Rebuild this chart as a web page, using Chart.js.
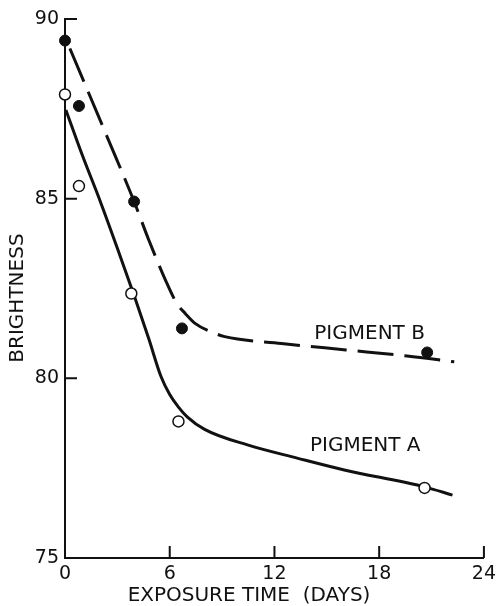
<!DOCTYPE html>
<html>
<head>
<meta charset="utf-8">
<script src="https://cdn.jsdelivr.net/npm/chart.js@4/dist/chart.umd.min.js"></script>
<style>
  html, body { margin: 0; padding: 0; background: #fff; }
  #wrap { width: 501px; height: 606px; }
</style>
</head>
<body>
<div id="wrap"><canvas id="graf"></canvas></div>
<script>
const TINTA = '#111';

const X_TICKS = [0, 6, 12, 18, 24];
const Y_TICKS = [75, 80, 85, 90];

// pontos medidos
const A_DIAS = [0, 0.8, 3.8, 6.5, 20.6];
const A_BRILHO = [87.9, 85.35, 82.36, 78.8, 76.95];
const B_DIAS = [0, 0.8, 3.96, 6.7, 20.75];
const B_BRILHO = [89.4, 87.58, 84.92, 81.39, 80.72];

// curvas desenhadas à mão (passando perto dos pontos)
const A_CURVA_X = [0.05, 1.0, 2.0, 3.0, 4.0, 4.8, 5.5, 6.0, 6.5, 7.0, 8.0, 10.5, 13.3, 16.0, 20.6, 22.2];
const A_CURVA_Y = [87.47, 86.2, 84.95, 83.62, 82.25, 81.1, 80.05, 79.55, 79.2, 78.93, 78.58, 78.14, 77.78, 77.45, 76.98, 76.75];
const B_CURVA_X = [0.28, 2.45, 3.96, 4.8, 5.75, 6.4, 6.9, 7.45, 8.6, 9.15, 12.4, 16.1, 19.6, 22.3];
const B_CURVA_Y = [89.18, 86.68, 84.92, 83.85, 82.74, 82.09, 81.8, 81.53, 81.25, 81.16, 80.97, 80.79, 80.62, 80.46];

// rótulos das curvas
const ROTULOS = ['PIGMENT B', 'PIGMENT A'];
const ROTULO_X = [17.45, 17.2];
const ROTULO_Y = [81.23, 78.12];

const FONTE = '"DejaVu Sans", sans-serif';

function pares(xs, ys) {
  return xs.map((x, i) => ({ x, y: ys[i] }));
}

// ticks voltados para dentro + rótulos das curvas
const extras = {
  id: 'extras',
  afterDraw(chart) {
    const { ctx, chartArea: ca, scales: { x, y } } = chart;
    ctx.save();
    ctx.strokeStyle = TINTA;
    ctx.lineWidth = 2;
    ctx.beginPath();
    X_TICKS.slice(1).forEach((v) => {
      const px = x.getPixelForValue(v);
      ctx.moveTo(px, ca.bottom);
      ctx.lineTo(px, ca.bottom - 12);
    });
    Y_TICKS.slice(1).forEach((v) => {
      const py = y.getPixelForValue(v);
      ctx.moveTo(ca.left, py);
      ctx.lineTo(ca.left + 12, py);
    });
    ctx.stroke();

    ctx.fillStyle = TINTA;
    ctx.font = '20px ' + FONTE;
    ctx.textAlign = 'center';
    ctx.textBaseline = 'middle';
    ROTULOS.forEach((t, i) => {
      ctx.fillText(t, x.getPixelForValue(ROTULO_X[i]), y.getPixelForValue(ROTULO_Y[i]));
    });
    ctx.restore();
  },
};

new Chart(document.getElementById('graf'), {
  type: 'scatter',
  data: {
    datasets: [
      { label: 'A', data: pares(A_DIAS, A_BRILHO), order: 0, clip: false,
        pointRadius: 5.5, pointBorderWidth: 1.5, pointBorderColor: TINTA,
        pointBackgroundColor: '#fff', showLine: false },
      { label: 'B', data: pares(B_DIAS, B_BRILHO), order: 0, clip: false,
        pointRadius: 5.5, pointBorderWidth: 1, pointBorderColor: TINTA,
        pointBackgroundColor: TINTA, showLine: false },
      { label: 'curva A', data: pares(A_CURVA_X, A_CURVA_Y), order: 1,
        showLine: true, pointRadius: 0, borderColor: TINTA, borderWidth: 3,
        cubicInterpolationMode: 'monotone' },
      { label: 'curva B', data: pares(B_CURVA_X, B_CURVA_Y), order: 1,
        showLine: true, pointRadius: 0, borderColor: TINTA, borderWidth: 3,
        borderDash: [36, 11], cubicInterpolationMode: 'monotone' },
    ],
  },
  options: {
    responsive: true, maintainAspectRatio: false, animation: false,
    layout: { padding: { left: 0, right: 12, top: 19, bottom: 0 } },
    plugins: { legend: { display: false }, tooltip: { enabled: false } },
    scales: {
      x: {
        type: 'linear', min: 0, max: 24,
        afterFit: (s) => { s.height = 48; },
        afterBuildTicks: (s) => { s.ticks = X_TICKS.map((v) => ({ value: v })); },
        grid: { drawOnChartArea: false, drawTicks: false },
        border: { display: true, color: TINTA, width: 2 },
        ticks: { color: TINTA, padding: 5, maxRotation: 0, font: { family: FONTE, size: 19 } },
        // espaços no fim deslocam o título para a esquerda, como no original
        title: { display: true, text: 'EXPOSURE TIME  (DAYS)\u00a0\u00a0\u00a0\u00a0\u00a0\u00a0\u00a0\u00a0', color: TINTA,
                 padding: { top: 0, bottom: -2 }, font: { family: FONTE, size: 20 } },
      },
      y: {
        type: 'linear', min: 75, max: 90,
        afterFit: (s) => { s.width = 65; },
        afterBuildTicks: (s) => { s.ticks = Y_TICKS.map((v) => ({ value: v })); },
        grid: { drawOnChartArea: false, drawTicks: false },
        border: { display: true, color: TINTA, width: 2 },
        ticks: { color: TINTA, padding: 6, font: { family: FONTE, size: 19 } },
        title: { display: true, text: 'BRIGHTNESS\u00a0\u00a0\u00a0', color: TINTA,
                 padding: { top: 6, bottom: 0 }, font: { family: FONTE, size: 20 } },
      },
    },
  },
  plugins: [extras],
});
</script>
</body>
</html>
